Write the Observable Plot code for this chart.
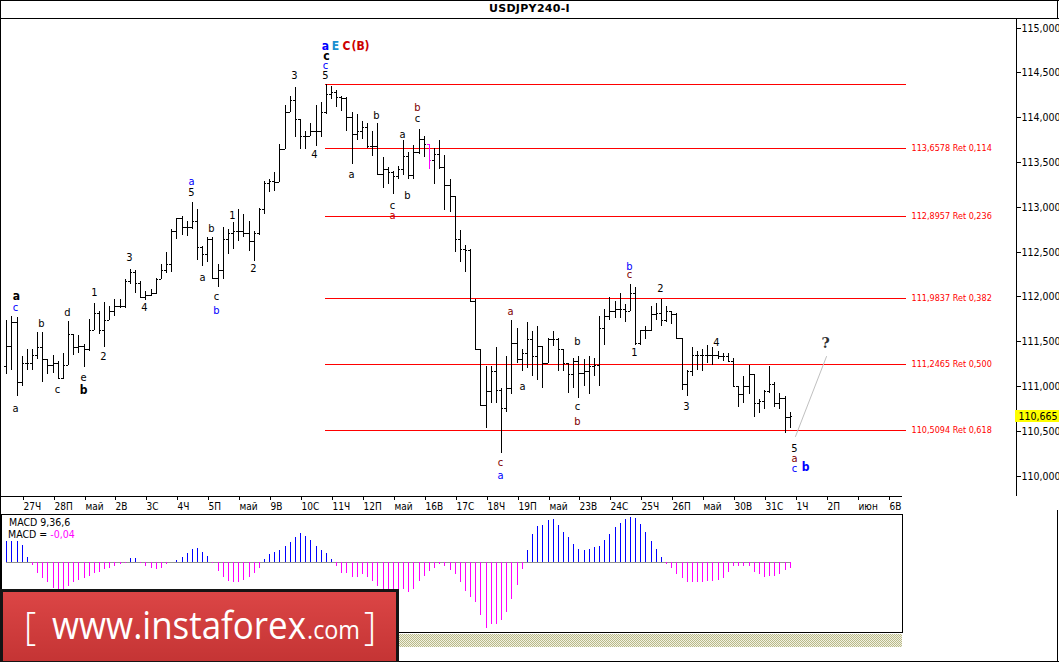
<!DOCTYPE html>
<html><head><meta charset="utf-8">
<script src="https://cdn.jsdelivr.net/npm/d3@7"></script>
<script src="https://cdn.jsdelivr.net/npm/@observablehq/plot@0.6"></script>
<style>
html,body{margin:0;padding:0;background:#fff;}
#wrap{position:relative;width:1059px;height:662px;overflow:hidden;background:#fff;font-family:"DejaVu Sans Condensed","Liberation Sans",sans-serif;color:#000;}
</style></head><body><div id="wrap"></div>
<script>
// ---------------- DATA ----------------
const symbolTitle = "USDJPY240-I";
const firstBar = -3; // bar index of the first bar (day 0 = 27 April, 6 bars per day)
const dayLabels = ["27Ч","28П","май","2В","3С","4Ч","5П","май","9В","10С","11Ч","12П","май","16В","17С","18Ч","19П","май","23В","24С","25Ч","26П","май","30В","31С","1Ч","2П","июн","6В"];
const priceTicks = [110, 110.5, 111, 111.5, 112, 112.5, 113, 113.5, 114, 114.5, 115];

const barOpen = [111.22,111.45,111.71,111.04,111.26,111.26,111.35,111.43,111.30,111.24,111.26,111.09,111.24,111.58,111.43,111.45,111.41,111.63,111.82,111.63,111.74,111.84,111.89,111.89,112.17,112.27,112.15,111.99,112.02,112.04,112.19,112.29,112.36,112.73,112.88,112.77,112.77,112.84,112.55,112.47,112.64,112.21,112.30,112.64,112.71,112.73,112.73,112.71,112.62,112.71,112.97,113.27,113.29,113.28,113.65,114.06,114.19,113.98,113.79,113.79,113.85,113.85,114.06,114.26,114.28,114.22,114.21,114.00,113.81,113.85,113.89,113.68,113.68,113.37,113.42,113.385,113.34,113.42,113.57,113.35,113.61,113.76,113.70,113.52,113.59,113.44,113.24,113.12,112.64,112.53,112.52,111.95,111.41,110.79,110.94,111.17,110.96,110.76,110.98,111.48,111.30,111.37,111.52,111.33,111.45,111.26,111.52,111.52,111.41,111.26,111.13,111.28,111.15,111.17,111.22,111.24,111.65,111.78,111.84,111.86,111.86,111.84,112.04,111.48,111.63,111.63,111.80,111.82,111.74,111.84,111.80,111.54,111.02,111.17,111.35,111.35,111.35,111.35,111.35,111.33,111.33,111.28,111.00,110.91,111.00,111.13,110.81,110.83,110.94,111.02,110.81,110.87,110.66];
const barHigh = [111.74,111.78,111.77,111.33,111.41,111.41,111.60,111.60,111.30,111.35,111.28,111.37,111.73,111.58,111.57,111.47,111.75,111.93,111.84,111.94,111.89,111.97,111.97,112.19,112.31,112.29,112.17,112.06,112.08,112.21,112.36,112.50,112.75,112.88,112.90,112.84,113.05,112.97,112.56,112.66,112.66,112.36,112.77,112.75,112.83,112.97,112.92,112.84,112.73,112.99,113.29,113.31,113.39,113.70,114.13,114.24,114.34,113.98,113.85,113.94,114.13,114.17,114.37,114.35,114.30,114.24,114.22,114.06,114.04,113.96,113.93,113.85,113.93,113.55,113.44,113.40,113.46,113.74,113.61,113.69,113.87,113.79,113.70,113.66,113.75,113.58,113.31,113.12,112.74,112.57,112.53,111.97,111.41,111.22,111.22,111.43,110.98,111.33,111.74,111.65,111.41,111.71,111.61,111.67,111.45,111.54,111.61,111.54,111.41,111.26,111.31,111.33,111.30,111.33,111.31,111.78,111.86,111.99,111.95,112.04,111.91,112.14,112.10,111.63,111.67,111.89,111.93,111.97,111.89,111.84,111.82,111.54,111.18,111.43,111.39,111.41,111.46,111.43,111.39,111.37,111.37,111.31,111.00,111.11,111.24,111.13,110.85,110.96,111.22,111.04,110.92,110.89,110.71];
const barLow = [111.13,111.18,110.89,111.00,111.18,111.18,111.30,111.04,111.13,111.15,111.08,111.08,111.23,111.35,111.37,111.21,111.39,111.63,111.58,111.44,111.74,111.78,111.87,111.87,112.14,112.04,111.98,111.96,112.00,112.03,112.19,112.26,112.27,112.64,112.68,112.67,112.75,112.41,112.34,112.38,112.19,112.10,112.19,112.47,112.53,112.62,112.66,112.51,112.40,112.68,112.92,113.16,113.18,113.28,113.65,114.06,113.78,113.65,113.65,113.79,113.68,113.78,114.04,114.205,114.11,114.07,113.85,113.48,113.74,113.76,113.66,113.57,113.37,113.21,113.25,113.14,113.31,113.35,113.31,113.31,113.59,113.55,113.42,113.25,113.42,112.96,112.94,112.50,112.38,112.27,111.95,111.41,110.79,110.53,110.81,110.81,110.25,110.71,110.91,111.26,111.17,111.20,111.11,111.07,110.98,111.26,111.45,111.17,111.17,110.92,110.98,110.87,111.00,110.91,111.11,111.00,111.46,111.74,111.76,111.76,111.71,111.84,111.46,111.46,111.52,111.61,111.74,111.67,111.72,111.69,111.54,110.96,110.89,111.11,111.18,111.17,111.26,111.24,111.30,111.28,111.28,111.00,110.77,110.81,110.91,110.66,110.70,110.74,110.92,110.77,110.74,110.48,110.53];
const barClose = [111.45,111.71,111.04,111.26,111.26,111.35,111.43,111.30,111.24,111.26,111.09,111.24,111.58,111.43,111.45,111.41,111.63,111.82,111.63,111.74,111.84,111.89,111.89,112.17,112.27,112.15,111.99,112.02,112.04,112.19,112.29,112.36,112.73,112.88,112.77,112.77,112.84,112.55,112.47,112.64,112.21,112.30,112.64,112.71,112.73,112.73,112.71,112.62,112.71,112.97,113.27,113.29,113.28,113.65,114.06,114.19,113.98,113.79,113.79,113.85,113.85,114.06,114.26,114.28,114.22,114.21,114.00,113.81,113.85,113.89,113.68,113.68,113.37,113.42,113.385,113.34,113.42,113.57,113.35,113.61,113.76,113.70,113.52,113.59,113.44,113.24,113.12,112.64,112.53,112.52,111.95,111.41,110.79,110.94,111.17,110.96,110.76,110.98,111.48,111.30,111.37,111.52,111.33,111.45,111.26,111.52,111.52,111.41,111.26,111.13,111.28,111.15,111.17,111.22,111.24,111.65,111.78,111.84,111.86,111.86,111.84,112.04,111.48,111.63,111.63,111.80,111.82,111.74,111.84,111.80,111.54,111.02,111.17,111.35,111.35,111.35,111.35,111.35,111.33,111.33,111.28,111.00,110.91,111.00,111.13,110.81,110.83,110.94,111.02,110.81,110.87,110.66,110.665];
const highlightedBar = 79;

const macdValues = [0.16,0.16,0.16,0.13,0.04,-0.02,-0.08,-0.115,-0.15,-0.195,-0.225,-0.21,-0.18,-0.15,-0.13,-0.12,-0.10,-0.08,-0.07,-0.05,-0.04,-0.025,-0.015,-0.003,0.035,0.03,-0.005,-0.025,-0.04,-0.05,-0.04,-0.01,0.005,0.02,0.04,0.07,0.10,0.105,0.075,0.05,-0.003,-0.065,-0.11,-0.14,-0.145,-0.15,-0.13,-0.11,-0.08,-0.04,0.025,0.06,0.075,0.09,0.125,0.155,0.19,0.22,0.20,0.17,0.125,0.09,0.07,0.025,-0.03,-0.08,-0.08,-0.11,-0.11,-0.09,-0.11,-0.14,-0.18,-0.21,-0.225,-0.23,-0.22,-0.20,-0.22,-0.20,-0.14,-0.10,-0.065,-0.045,-0.01,-0.025,-0.055,-0.09,-0.15,-0.215,-0.26,-0.295,-0.395,-0.49,-0.46,-0.46,-0.43,-0.375,-0.275,-0.17,-0.05,0.095,0.21,0.27,0.28,0.32,0.325,0.28,0.23,0.19,0.14,0.10,0.09,0.10,0.115,0.12,0.17,0.21,0.265,0.295,0.325,0.34,0.33,0.29,0.23,0.16,0.10,0.04,-0.01,-0.04,-0.085,-0.12,-0.15,-0.145,-0.145,-0.145,-0.14,-0.14,-0.13,-0.12,-0.07,-0.03,-0.03,-0.03,-0.03,-0.07,-0.09,-0.11,-0.10,-0.10,-0.085,-0.06,-0.04];
const macdTitle = "MACD 9,36,6";

const fibRatios = [0, 0.114, 0.236, 0.382, 0.5, 0.618];
const fibPrices = [114.3698, 113.6578, 112.8957, 111.9837, 111.2465, 110.5094];
const fibFromBar = 58.84, fibToBar = 171.48;

const projBars = [150.0, 155.96];
const projPrices = [110.44, 111.33];

const waveText = ["a","E","C","(B)","c","c","5","3","4","a","5","1","b","a","c","b","d","a","c","e","b","1","2","3","4","a","c","b","2","a","b","c","a","b","c","a","b","b","c","2","a","a","b","c","b","c","a","1","3","4","5","a","c","b","?"];
const waveBar = [58.93,60.85,62.85,65.72,59.03,58.93,58.93,52.82,56.70,32.84,32.84,40.80,36.72,-1.16,-1.30,3.74,8.79,-1.30,6.85,11.89,11.89,14.03,15.77,20.82,23.72,34.98,37.69,37.69,44.87,63.82,68.73,71.83,71.83,76.68,76.68,73.77,74.74,117.81,117.81,123.82,94.72,96.99,107.72,107.72,107.72,92.78,92.78,118.78,128.86,134.68,149.81,149.81,149.81,151.95,155.83];
const wavePrice = [114.793,114.793,114.793,114.793,114.687,114.578,114.466,114.466,113.591,113.289,113.166,112.908,112.763,112.002,111.883,111.700,111.827,110.753,110.962,111.100,110.951,112.047,111.331,112.438,111.879,112.218,112.006,111.846,112.315,113.367,114.027,113.023,112.912,114.116,113.993,113.814,113.132,112.341,112.248,112.095,111.838,110.999,111.502,110.775,110.607,110.149,110.011,111.376,110.775,111.491,110.313,110.201,110.089,110.093,111.477];
const waveColor = ["#0000ff","#1a8fd0","#cc0000","#cc0000","#000","#0000ff","#000","#000","#000","#0000ff","#000","#000","#000","#000","#0000ff","#000","#000","#000","#000","#000","#000","#000","#000","#000","#000","#000","#000","#0000ff","#000","#000","#000","#000","#c00000","#800000","#000","#000","#000","#0000ff","#800000","#000","#800000","#000","#000","#000","#800000","#800000","#0000ff","#000","#000","#000","#000","#800000","#0000ff","#0000ff","#303030"];
const waveBold = [1,1,1,1,1,0,0,0,0,0,0,0,0,1,0,0,0,0,0,0,1,0,0,0,0,0,0,0,0,0,0,0,0,0,0,0,0,0,0,0,0,0,0,0,0,0,0,0,0,0,0,0,0,1,1];

// ---------------- LAYOUT ----------------
const FONT = '"DejaVu Sans Condensed","Liberation Sans",sans-serif';
const X0 = 21.7, PXBAR = 5.155;          // page x of bar 0, pixels per bar
const toBar = px => (px - X0) / PXBAR;
const comma = (v, n) => v.toFixed(n).replace(".", ",");
const Y_LO = 109.7731, Y_HI = 115.1062;  // price at bottom / top of the price panel

const bars = barOpen.map((o, k) => ({
  i: k + firstBar, open: o, high: barHigh[k], low: barLow[k], close: barClose[k],
  color: (k + firstBar) === highlightedBar ? "#ff00ff" : "#000000"
}));
const lastBar = bars[bars.length - 1];
const macd = macdValues.map((v, k) => ({i: k + firstBar, v}));
const fib = fibRatios.map((r, k) => ({ratio: r, price: fibPrices[k]}));
const proj = projBars.map((b, k) => ({i: b, p: projPrices[k]}));
const waves = waveText.map((t, k) => ({t, i: waveBar[k], p: wavePrice[k], c: waveColor[k], b: waveBold[k]}));

const wrap = document.getElementById("wrap");
function el(tag, css, html) {
  const e = document.createElement(tag);
  e.style.cssText = css;
  if (html != null) e.innerHTML = html;
  wrap.appendChild(e);
  return e;
}

// ---------------- MAIN CHART ----------------
const main = Plot.plot({
  width: 1059, height: 496,
  marginTop: 0, marginRight: 43, marginBottom: 18, marginLeft: 1,
  x: {domain: [toBar(1), toBar(1016)], round: true},
  y: {domain: [Y_LO, Y_HI], round: true},
  color: {type: "identity"},
  style: {fontFamily: FONT, fontSize: "10px", background: "transparent", color: "#000", overflow: "visible"},
  marks: [
    Plot.ruleY(fib, {y: "price", x1: fibFromBar, x2: fibToBar, stroke: "#ff0000", strokeWidth: 1}),
    Plot.text(fib.filter(d => d.ratio > 0), {x: toBar(910.5), y: "price", text: d => `${comma(d.price, 4)} Ret ${comma(d.ratio, 3)}`, textAnchor: "start", fill: "#ff0000", fontSize: 9}),
    Plot.line(proj, {x: "i", y: "p", stroke: "#c0c0c0", strokeWidth: 1}),
    Plot.ruleX(bars, {x: "i", y1: "low", y2: "high", stroke: d => d.color, shapeRendering: "crispEdges"}),
    Plot.ruleY(bars, {y: "open", x1: d => d.i - 0.45, x2: "i", stroke: d => d.color, shapeRendering: "crispEdges"}),
    Plot.ruleY(bars, {y: "close", x1: "i", x2: d => d.i + 0.45, stroke: d => d.color, shapeRendering: "crispEdges"}),
    Plot.text(waves.filter(d => !d.b), {x: "i", y: "p", text: "t", fill: d => d.c, fontSize: 11}),
    Plot.text(waves.filter(d => d.b && d.t !== "?"), {x: "i", y: "p", text: "t", fill: d => d.c, fontSize: 12, fontWeight: "bold"}),
    Plot.text(waves.filter(d => d.t === "?"), {x: "i", y: "p", text: "t", fill: d => d.c, fontSize: 14, fontWeight: "bold", fontFamily: "DejaVu Serif"}),
    Plot.ruleX([toBar(1016)], {stroke: "#000", shapeRendering: "crispEdges"}),
    Plot.ruleY([Y_LO], {x1: toBar(0), x2: toBar(902), stroke: "#000", shapeRendering: "crispEdges"}),
    Plot.axisY(priceTicks, {anchor: "right", tickFormat: d => comma(d, 3), tickSize: 4, tickPadding: 1, fontSize: 10.5, label: null}),
    Plot.axisX(dayLabels.map((_, d) => d * 6), {anchor: "bottom", tickFormat: v => dayLabels[v / 6], tickSize: 4, tickPadding: 2, textAnchor: "start", dx: 1, fontSize: 10, label: null}),
    Plot.rect([lastBar], {x1: toBar(1015), x2: toBar(1060), y1: d => d.close - 0.068, y2: d => d.close + 0.068, fill: "#ffff00"}),
    Plot.text([lastBar], {x: toBar(1018), y: "close", text: d => comma(d.close, 3), textAnchor: "start", fontSize: 10.5, fill: "#000"})
  ]
});
main.style.position = "absolute"; main.style.left = "0px"; main.style.top = "18px";
wrap.appendChild(main);

// ---------------- MACD PANEL ----------------
const macdPlot = Plot.plot({
  width: 1059, height: 120,
  marginTop: 0, marginRight: 157, marginBottom: 2, marginLeft: 1,
  x: {domain: [toBar(1), toBar(902)], axis: null, round: true},
  y: {domain: [-0.523, 0.362], axis: null, round: true},
  color: {type: "identity"},
  style: {fontFamily: FONT, background: "transparent", overflow: "visible"},
  marks: [
    Plot.ruleY([0], {x1: firstBar, x2: lastBar.i, stroke: "#909090", shapeRendering: "crispEdges"}),
    Plot.ruleX(macd, {x: "i", y1: 0, y2: "v", stroke: d => d.v >= 0 ? "#0000ff" : "#ff00ff", shapeRendering: "crispEdges"}),
    Plot.frame({stroke: "#000", shapeRendering: "crispEdges"})
  ]
});
macdPlot.style.position = "absolute"; macdPlot.style.left = "0px"; macdPlot.style.top = "514px";
wrap.appendChild(macdPlot);

// ---------------- DECORATION ----------------
el("div", "position:absolute;left:0;top:0;width:1059px;height:19px;box-sizing:border-box;border-bottom:1px solid #000;text-align:center;font:bold 11px 'DejaVu Sans',sans-serif;line-height:18px;letter-spacing:0.3px;", symbolTitle);
el("div", "position:absolute;left:0;top:0;width:1px;height:662px;background:#000;");
el("div", "position:absolute;left:0;top:0;width:1059px;height:1px;background:#000;");
el("div", "position:absolute;left:0;top:661px;width:1059px;height:1px;background:#000;");
el("div", "position:absolute;left:1057px;top:0;width:1px;height:19px;background:#000;");
el("div", "position:absolute;left:1057px;top:510px;width:1px;height:152px;background:#000;");
el("div", "position:absolute;left:1px;top:632px;width:902px;height:1px;background:#000;");
el("div", "position:absolute;left:1px;top:634px;width:901px;height:13px;background:repeating-conic-gradient(#b9b98a 0 25%, #f2f2e2 0 50%) 0 0/2px 2px;");
el("div", `position:absolute;left:9px;top:516px;font:10.5px ${FONT};line-height:13px;`, macdTitle);
el("div", `position:absolute;left:8px;top:528px;font:10.5px ${FONT};line-height:13px;`, `MACD = <span style="color:#ff00ff">${comma(macdValues[macdValues.length - 1], 2)}</span>`);

// banner
const ns = "http://www.w3.org/2000/svg";
const bsvg = document.createElementNS(ns, "svg");
bsvg.setAttribute("width", 400); bsvg.setAttribute("height", 74);
bsvg.style.cssText = "position:absolute;left:0;top:589px;";
bsvg.innerHTML = `
<defs><linearGradient id="rg" x1="0" y1="0" x2="0" y2="1"><stop offset="0" stop-color="#dc4646"/><stop offset="1" stop-color="#c43434"/></linearGradient></defs>
<rect x="1.5" y="1.5" width="396" height="72" fill="url(#rg)" stroke="#141414" stroke-width="3"/>
<g fill="#fff" font-family="'Open Sans',sans-serif">
<text x="24" y="51" font-size="38" font-weight="300">[</text>
<text x="52" y="50" font-size="38.5" textLength="254" lengthAdjust="spacingAndGlyphs">www.instaforex</text>
<text x="307" y="50" font-size="26" textLength="53" lengthAdjust="spacingAndGlyphs">.com</text>
<text x="364" y="51" font-size="38" font-weight="300">]</text>
</g>`;
wrap.appendChild(bsvg);
</script></body></html>
